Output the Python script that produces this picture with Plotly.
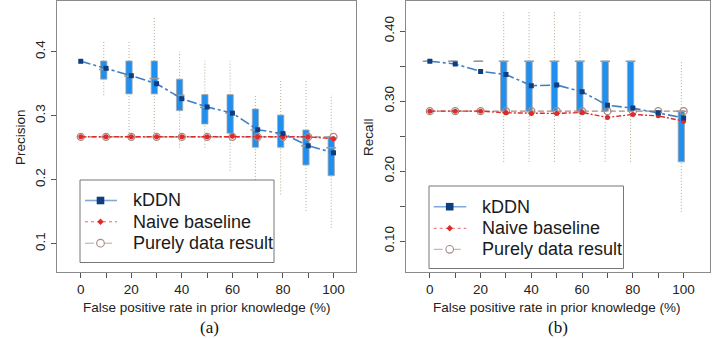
import plotly.graph_objects as go

# ---------------- data ----------------
fpr = [0, 10, 20, 30, 40, 50, 60, 70, 80, 90, 100]

# Panel (a) Precision
prec_kddn = [0.385, 0.374, 0.3625, 0.350, 0.3266, 0.3136, 0.304, 0.278, 0.272, 0.253, 0.242]
prec_naive = [0.267, 0.267, 0.267, 0.267, 0.267, 0.267, 0.268, 0.267, 0.267, 0.267, 0.264]
prec_pure = [0.267, 0.267, 0.267, 0.267, 0.267, 0.267, 0.267, 0.267, 0.267, 0.267, 0.267]
prec_box_x = [10, 20, 30, 40, 50, 60, 70, 80, 90, 100]
prec_wlo = [0.332, 0.273, 0.273, 0.250, 0.250, 0.214, 0.167, 0.177, 0.151, 0.125]
prec_q1 = [0.357, 0.334, 0.334, 0.308, 0.287, 0.2725, 0.2506, 0.2506, 0.223, 0.2063]
prec_med = [0.372, 0.362, 0.358, 0.332, 0.313, 0.304, 0.278, 0.272, 0.253, 0.250]
prec_q3 = [0.3855, 0.3855, 0.3855, 0.357, 0.333, 0.333, 0.3105, 0.301, 0.2777, 0.267]
prec_whi = [0.417, 0.417, 0.456, 0.400, 0.3855, 0.3855, 0.333, 0.357, 0.357, 0.333]

# Panel (b) Recall
rec_kddn = [0.357, 0.353, 0.3424, 0.338, 0.322, 0.323, 0.3133, 0.294, 0.290, 0.2833, 0.276]
rec_naive = [0.2857, 0.2857, 0.2857, 0.2833, 0.2824, 0.2824, 0.2838, 0.2767, 0.281, 0.279, 0.2714]
rec_pure = [0.2857, 0.2857, 0.2857, 0.2857, 0.2857, 0.2857, 0.2857, 0.2857, 0.2857, 0.2857, 0.2857]
rec_box_x = [0, 10, 20, 30, 40, 50, 60, 70, 80, 90, 100]
rec_wlo = [0.357, 0.357, 0.357, 0.2133, 0.2133, 0.2133, 0.2133, 0.2133, 0.2133, 0.2857, 0.142]
rec_q1 = [0.357, 0.357, 0.357, 0.2857, 0.2857, 0.2857, 0.2857, 0.2857, 0.2857, 0.2857, 0.2133]
rec_med = [0.357, 0.357, 0.357, 0.357, 0.357, 0.357, 0.357, 0.357, 0.357, 0.2857, 0.2857]
rec_q3 = [0.357, 0.357, 0.357, 0.357, 0.357, 0.357, 0.357, 0.357, 0.357, 0.2857, 0.2857]
rec_whi = [0.357, 0.357, 0.357, 0.429, 0.429, 0.429, 0.429, 0.357, 0.357, 0.2857, 0.357]

x_tickvals = [0, 10, 20, 30, 40, 50, 60, 70, 80, 90, 100]
x_ticktext = ["0", "", "20", "", "40", "", "60", "", "80", "", "100"]
prec_tickvals = [0.1, 0.2, 0.3, 0.4]
prec_ticktext = ["0.1", "0.2", "0.3", "0.4"]
rec_tickvals = [0.10, 0.15, 0.20, 0.25, 0.30, 0.35, 0.40]
rec_ticktext = ["0.10", "", "0.20", "", "0.30", "", "0.40"]

series_names = ["kDDN", "Naive baseline", "Purely data result"]
x_title = "False positive rate in prior knowledge (%)"

# ---------------- styling ----------------
FONT = "Liberation Sans, Arial, sans-serif"
BOX_FILL = "#1f8ff0"
BOX_EDGE = "#a8a8a8"
WHISK = "#b8a690"
KDDN_LINE = "#3f7fc0"
KDDN_MK = "#0d3f80"
NAIVE = "#e02a2a"
PURE = "#a58a84"
BOX_OFF = -0.9
BOX_W = 2.5
W, H = 726, 339


def px(v):
    return v / W


def py(v):
    return 1 - v / H


fig = go.Figure()


def add_panel(xa, ya, box_x, wlo, q1, med, q3, whi, kddn, naive, pure):
    bx = [v + BOX_OFF for v in box_x]
    fig.add_trace(go.Bar(x=bx, y=[b - a for a, b in zip(q1, q3)], base=q1, width=BOX_W,
                         marker=dict(color=BOX_FILL, line=dict(color=BOX_EDGE, width=0.8)),
                         xaxis=xa, yaxis=ya, showlegend=False, hoverinfo="skip"))
    wx, wy = [], []
    for x, lo, a, b, hi in zip(bx, wlo, q1, q3, whi):
        wx += [x, x, None, x, x, None]
        wy += [lo, a, None, b, hi, None]
    fig.add_trace(go.Scatter(x=wx, y=wy, mode="lines", line=dict(color=WHISK, width=1.0, dash="1px,2px"),
                             xaxis=xa, yaxis=ya, showlegend=False, hoverinfo="skip"))
    fig.add_trace(go.Scatter(x=bx, y=med, mode="markers",
                             marker=dict(symbol="line-ew", size=7, line=dict(color="#9a9a9a", width=1.5)),
                             xaxis=xa, yaxis=ya, showlegend=False, hoverinfo="skip"))
    fig.add_trace(go.Scatter(x=fpr, y=pure, name=series_names[2], mode="lines+markers",
                             line=dict(color=PURE, width=1.3, dash="6px,3px"),
                             marker=dict(symbol="circle-open", size=7, color=PURE, line=dict(width=1.3)),
                             xaxis=xa, yaxis=ya, showlegend=False))
    fig.add_trace(go.Scatter(x=fpr, y=naive, name=series_names[1], mode="lines+markers",
                             line=dict(color=NAIVE, width=1.4, dash="5px,2px,2px,2px"),
                             marker=dict(symbol="circle", size=5, color=NAIVE),
                             xaxis=xa, yaxis=ya, showlegend=False))
    fig.add_trace(go.Scatter(x=fpr, y=kddn, name=series_names[0], mode="lines+markers",
                             line=dict(color=KDDN_LINE, width=1.6, dash="10px,3px,3px,3px"),
                             marker=dict(symbol="square", size=5, color=KDDN_MK),
                             xaxis=xa, yaxis=ya, showlegend=False))


add_panel("x", "y", prec_box_x, prec_wlo, prec_q1, prec_med, prec_q3, prec_whi,
          prec_kddn, prec_naive, prec_pure)
add_panel("x2", "y2", rec_box_x, rec_wlo, rec_q1, rec_med, rec_q3, rec_whi,
          rec_kddn, rec_naive, rec_pure)

ytop = py(1)
ybot = py(272)

axis_common = dict(showgrid=False, zeroline=False, showline=True, mirror=True,
                   linecolor="#8a8a8a", linewidth=1.3, ticks="outside", ticklen=5,
                   tickcolor="#555", tickwidth=1, tickfont=dict(family=FONT, size=13.5, color="#222"),
                   automargin=False)

fig.update_layout(
    width=W, height=H, margin=dict(l=0, r=0, t=0, b=0),
    paper_bgcolor="white", plot_bgcolor="white",
    barmode="overlay", showlegend=False,
    xaxis=dict(domain=[px(57), px(356)], range=[-9.4, 108.9], tickvals=x_tickvals, ticktext=x_ticktext,
               anchor="y", **axis_common),
    yaxis=dict(domain=[ybot, ytop], range=[0.0558, 0.4792], tickvals=prec_tickvals, ticktext=prec_ticktext,
               tickangle=-90, anchor="x", **axis_common),
    xaxis2=dict(domain=[px(406), px(709.5)], range=[-9.4, 110.2], tickvals=x_tickvals, ticktext=x_ticktext,
                anchor="y2", **axis_common),
    yaxis2=dict(domain=[ybot, ytop], range=[0.0561, 0.4429], tickvals=rec_tickvals, ticktext=rec_ticktext,
                tickangle=-90, anchor="x2", **axis_common),
)

# ---------------- manual legends ----------------
LEG_FONT = dict(family=FONT, size=18, color="#1a1a1a")


def add_legend(box, line_x, mk_x, text_x, rows):
    x0, y0, x1, y1 = box
    fig.add_shape(type="rect", xref="paper", yref="paper", x0=px(x0), x1=px(x1), y0=py(y0), y1=py(y1),
                  line=dict(color="#777", width=1), fillcolor="white", layer="above")
    styles = [
        dict(color="#7fa8d6", width=1.6, dash="solid"),
        dict(color="#e36a6a", width=1.0, dash="dot"),
        dict(color="#c0a6a2", width=1.0, dash="dash"),
    ]
    for name, yy, st in zip(series_names, rows, styles):
        fig.add_shape(type="line", xref="paper", yref="paper", x0=px(line_x[0]), x1=px(line_x[1]),
                      y0=py(yy), y1=py(yy), line=st, layer="above")
        fig.add_annotation(text=name, x=px(text_x), y=py(yy), xref="paper", yref="paper",
                           xanchor="left", yanchor="middle", showarrow=False, font=LEG_FONT)
    r = 3.8
    fig.add_shape(type="rect", xref="paper", yref="paper", x0=px(mk_x - r), x1=px(mk_x + r),
                  y0=py(rows[0] - r), y1=py(rows[0] + r), line=dict(width=0), fillcolor=KDDN_MK, layer="above")
    d = 3.2
    yy = rows[1]
    fig.add_shape(type="path", xref="paper", yref="paper",
                  path=f"M {px(mk_x)},{py(yy - d)} L {px(mk_x + d)},{py(yy)} L {px(mk_x)},{py(yy + d)} "
                       f"L {px(mk_x - d)},{py(yy)} Z",
                  line=dict(width=0), fillcolor=NAIVE, layer="above")
    c = 3.8
    yy = rows[2]
    fig.add_shape(type="circle", xref="paper", yref="paper", x0=px(mk_x - c), x1=px(mk_x + c),
                  y0=py(yy - c), y1=py(yy + c), line=dict(color="#a58a84", width=1.1),
                  fillcolor="white", layer="above")


add_legend((80, 180, 274, 262.5), (85, 117), 100.5, 131, [200.5, 221.8, 243.2])
add_legend((429, 186, 623.5, 268.5), (433.7, 466.3), 449.7, 480, [206.7, 228.3, 249.3])

# ---------------- titles ----------------
ann_font = dict(family=FONT, size=13.5, color="#222")
cap_font = dict(family="Liberation Serif, Times New Roman, serif", size=17, color="#111")
common = dict(xref="paper", yref="paper", showarrow=False, xanchor="center", yanchor="middle")
fig.add_annotation(text="Precision", x=px(20), y=py(137), textangle=-90, font=ann_font, **common)
fig.add_annotation(text="Recall", x=px(368), y=py(137), textangle=-90, font=ann_font, **common)
fig.add_annotation(text=x_title, x=px(207), y=py(307), font=ann_font, **common)
fig.add_annotation(text=x_title, x=px(557), y=py(307), font=ann_font, **common)
fig.add_annotation(text="(a)", x=px(210), y=py(327), font=cap_font, **common)
fig.add_annotation(text="(b)", x=px(558), y=py(327), font=cap_font, **common)

fig.write_html("out.html", config={"displayModeBar": False},
               post_script="document.body.style.margin='0';")
